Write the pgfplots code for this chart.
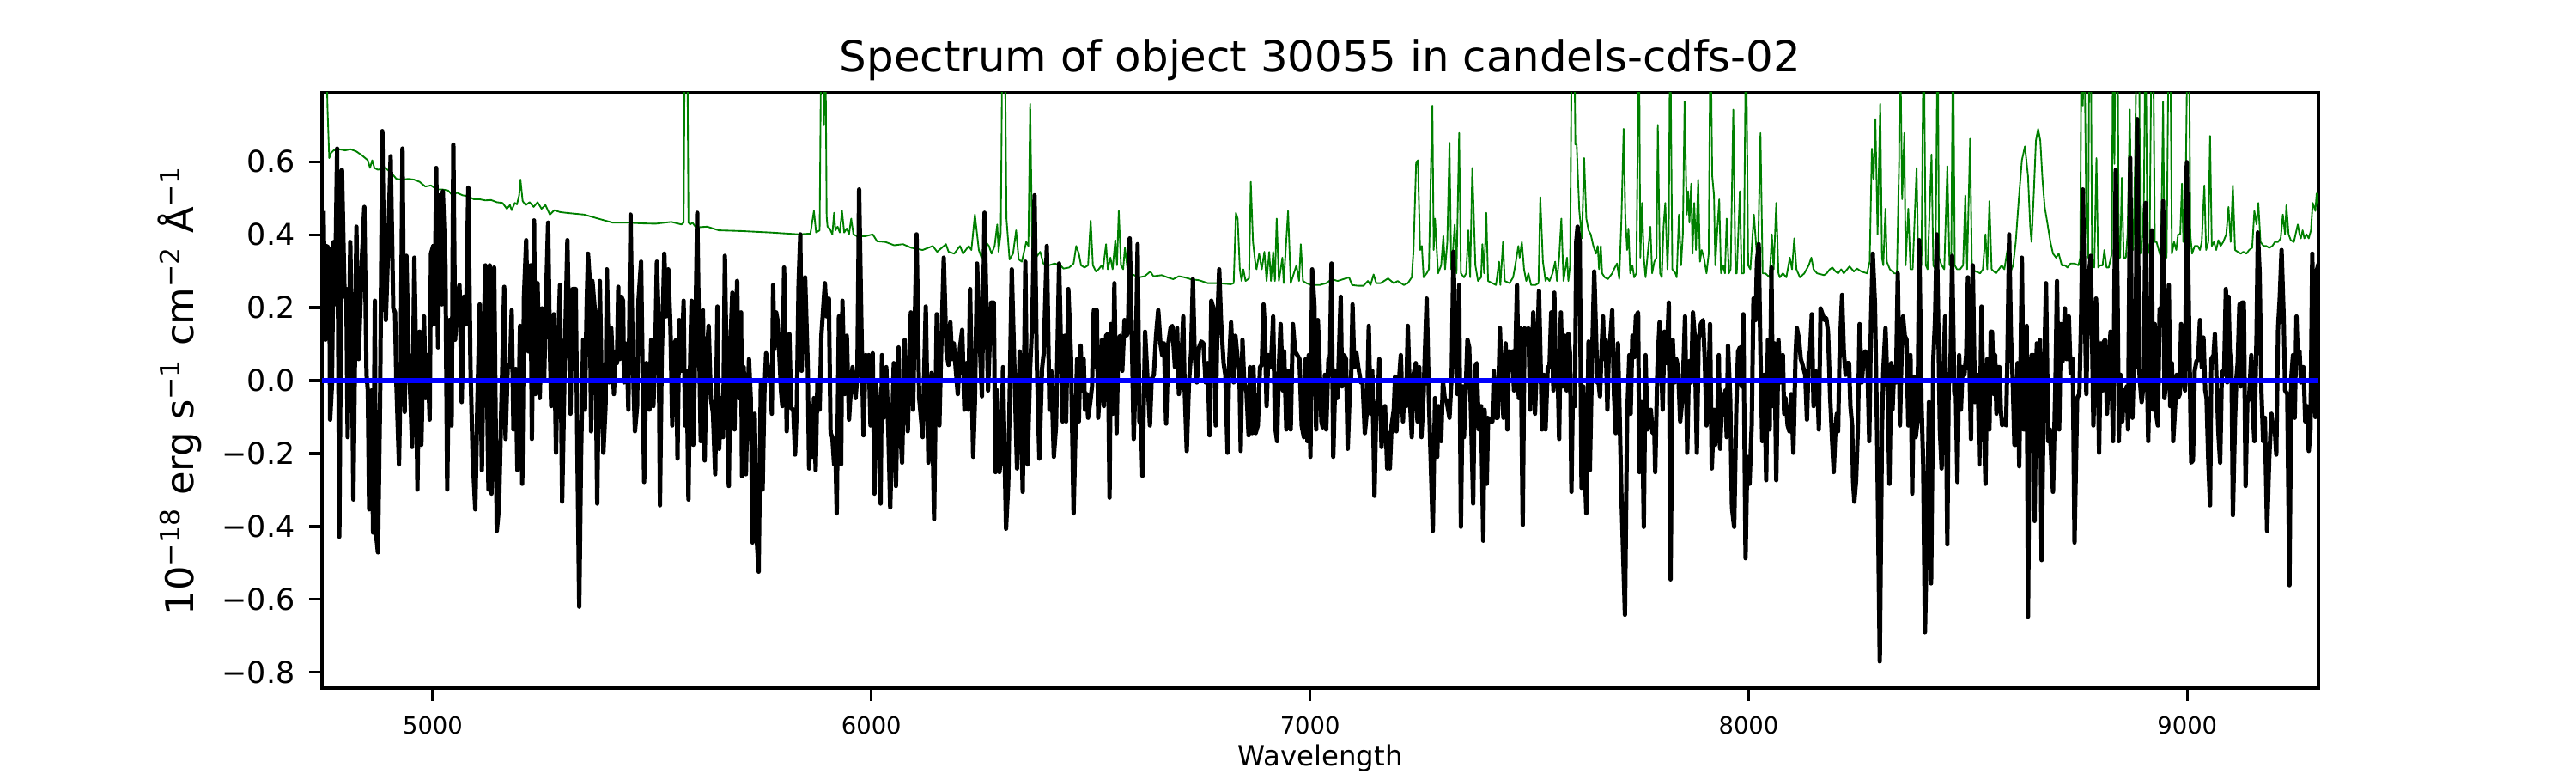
\documentclass[border=0pt]{standalone}
\usepackage{fontspec}
\setmainfont{DejaVu Sans}
\usepackage{pgfplots}
\pgfplotsset{compat=1.18}
\definecolor{mplgreen}{RGB}{0,128,0}
\begin{document}
\begin{tikzpicture}
\useasboundingbox (-1.25in,-0.33in) rectangle (8.75in,2.67in);
\begin{axis}[
  at={(0,0)}, anchor=south west,
  scale only axis, width=7.75in, height=2.31in,
  xmin=4747.5, xmax=9299, ymin=-0.843, ymax=0.789,
  axis line style={line width=0.8pt},
  tick pos=left, tick align=outside,
  major tick length=3.5pt,
  tick style={line width=0.8pt, black},
  xtick={5000,6000,7000,8000,9000},
  xticklabels={5000,6000,7000,8000,9000},
  ytick={-0.8,-0.6,-0.4,-0.2,0,0.2,0.4,0.6},
  yticklabels={−0.8,−0.6,−0.4,−0.2,0.0,0.2,0.4,0.6},
  xticklabel style={font=\fontsize{6.6}{7}\selectfont, inner sep=0pt, anchor=north, yshift=-4.4pt},
  yticklabel style={font=\fontsize{8.4}{9}\selectfont, inner sep=0pt, anchor=east, xshift=-3.9pt},
  minor tick num=0,
]
% sky / noise spectrum
\addplot[mplgreen, line width=0.45pt, line join=round] coordinates {
(4750,1.0)(4756,1.0)(4760,0.75)(4764,0.610)(4768,0.624)(4774,0.631)(4787,0.634)(4800,0.631)(4813,0.634)(4826,0.628)(4839,0.617)(4852,0.604)(4857,0.583)(4862,0.604)(4867,0.583)(4875,0.578)(4891,0.583)(4904,0.572)(4917,0.553)(4931,0.551)(4944,0.553)(4957,0.551)(4970,0.545)(4983,0.532)(4996,0.535)(5009,0.524)(5022,0.524)(5035,0.521)(5045,0.508)(5055,0.515)(5068,0.508)(5081,0.505)(5094,0.497)(5107,0.497)(5120,0.494)(5133,0.495)(5146,0.489)(5159,0.487)(5169,0.471)(5176,0.481)(5180,0.467)(5187,0.487)(5192,0.483)(5197,0.508)(5200,0.551)(5205,0.492)(5212,0.481)(5221,0.489)(5230,0.476)(5239,0.489)(5248,0.471)(5257,0.481)(5267,0.455)(5277,0.467)(5290,0.462)(5303,0.460)(5319,0.458)
(5345,0.455)(5377,0.444)(5410,0.433)(5443,0.433)(5475,0.431)(5508,0.430)(5544,0.435)(5567,0.428)(5572,0.433)(5575,1.0)(5580,1.0)(5583,0.433)(5587,0.428)(5592,0.433)(5600,0.420)(5626,0.422)(5652,0.412)(5704,0.410)(5770,0.406)(5835,0.401)(5861,0.403)(5869,0.465)(5874,0.406)(5882,0.412)(5886,1.0)(5889,1.0)(5892,0.70)(5895,1.0)(5898,0.45)
(5900,0.422)(5905,0.417)(5911,0.401)(5915,0.460)(5918,0.412)(5923,0.422)(5928,0.406)(5933,0.465)(5938,0.406)(5944,0.417)(5949,0.401)(5954,0.444)(5959,0.401)(5967,0.396)(5987,0.396)(6003,0.401)(6013,0.382)(6032,0.380)(6052,0.371)(6072,0.374)(6091,0.364)(6117,0.358)(6140,0.369)(6150,0.353)(6170,0.374)(6176,0.353)(6189,0.348)(6202,0.369)(6209,0.348)(6222,0.369)(6228,0.358)(6236,0.455)(6245,0.358)(6251,0.337)(6261,0.380)(6268,0.369)(6274,0.348)(6281,0.369)(6287,0.428)(6290,0.353)(6295,0.406)(6299,1.0)(6304,1.0)(6308,0.444)(6315,0.332)(6323,0.348)(6330,0.412)(6336,0.332)(6343,0.326)(6353,0.380)(6358,0.369)(6362,0.759)(6367,0.337)(6372,0.332)(6385,0.353)(6392,0.321)(6405,0.316)(6418,0.321)(6431,0.316)(6438,0.307)(6451,0.310)(6461,0.321)
(6467,0.369)(6473,0.348)(6478,0.316)(6486,0.310)(6494,0.316)(6500,0.439)(6505,0.316)(6512,0.299)(6518,0.305)(6525,0.316)(6528,0.305)(6535,0.374)(6539,0.305)(6545,0.337)(6550,0.305)(6556,0.385)(6560,0.316)(6564,0.465)(6569,0.316)(6574,0.305)(6578,0.364)(6584,0.305)(6590,0.294)(6610,0.283)(6623,0.286)(6636,0.299)(6643,0.286)(6662,0.289)(6675,0.283)(6688,0.278)(6701,0.286)(6714,0.283)(6728,0.278)(6747,0.275)(6767,0.267)(6793,0.267)(6819,0.264)(6826,0.267)(6831,0.460)(6835,0.444)(6840,0.305)(6844,0.273)(6848,0.305)(6853,0.273)(6861,0.280)(6865,0.545)(6870,0.380)(6875,0.326)(6878,0.305)(6884,0.348)(6890,0.305)(6896,0.353)(6901,0.273)(6907,0.353)(6911,0.273)(6916,0.353)(6920,0.273)(6924,0.444)(6929,0.273)(6937,0.337)(6940,0.267)(6950,0.465)(6956,0.267)(6969,0.316)(6975,0.273)(6979,0.374)(6984,0.273)(6992,0.267)(7002,0.262)(7022,0.262)
(7037,0.267)(7050,0.278)(7063,0.273)(7076,0.278)(7089,0.283)(7096,0.262)(7109,0.260)(7122,0.260)(7132,0.273)(7138,0.262)(7145,0.291)(7151,0.267)(7161,0.267)(7178,0.280)(7191,0.267)(7200,0.273)(7214,0.262)(7223,0.267)(7232,0.283)(7236,0.358)(7242,0.599)(7246,0.604)(7251,0.358)(7255,0.369)(7259,0.283)(7266,0.294)(7271,0.305)(7276,0.604)(7279,0.754)(7282,0.358)(7285,0.444)(7289,0.358)(7292,0.294)(7299,0.316)(7304,0.396)(7308,0.305)(7313,0.380)(7318,0.652)(7322,0.305)(7326,0.358)(7330,0.428)(7334,0.294)(7340,0.679)(7344,0.294)(7351,0.283)(7356,0.294)(7361,0.412)(7365,0.283)(7370,0.583)(7377,0.316)(7383,0.273)(7390,0.283)(7393,0.374)(7397,0.294)(7402,0.460)(7406,0.273)(7416,0.267)(7424,0.262)(7431,0.326)(7434,0.262)(7440,0.380)(7444,0.273)(7455,0.267)(7463,0.283)(7468,0.316)(7475,0.369)(7478,0.337)(7483,0.380)(7488,0.305)(7493,0.273)(7498,0.294)(7504,0.262)(7514,0.262)(7521,0.267)(7525,0.503)(7531,0.326)(7537,0.273)(7540,0.283)(7546,0.273)(7553,0.294)(7559,0.326)(7563,0.273)(7568,0.337)(7573,0.444)(7578,0.273)(7586,0.337)(7589,0.273)(7593,0.316)(7597,1.0)(7602,1.0)
(7605,0.647)(7608,0.647)(7610,0.583)(7614,0.465)(7620,0.390)(7625,0.610)(7630,0.444)(7635,0.412)(7640,0.401)(7646,0.369)(7652,0.348)(7656,0.369)(7659,0.305)(7663,0.369)(7666,0.294)(7672,0.283)(7679,0.278)(7689,0.294)(7695,0.310)(7700,0.321)(7705,0.278)(7710,0.444)(7715,0.690)(7719,0.444)(7723,0.358)(7726,0.417)(7730,0.294)(7735,0.316)(7739,0.283)(7744,0.294)(7750,1.0)(7753,0.337)(7757,0.487)(7761,0.337)(7765,0.283)(7770,0.348)(7776,0.422)(7780,0.294)(7785,0.326)(7790,0.337)(7793,0.701)(7798,0.294)(7802,0.283)(7806,0.422)(7810,0.487)(7815,0.305)(7818,0.412)(7821,1.0)(7826,0.305)(7833,0.294)(7836,0.283)(7841,0.455)(7846,0.316)(7850,0.401)(7854,0.765)(7859,0.455)(7862,0.519)(7865,0.433)(7869,0.540)(7872,0.348)(7876,0.487)(7880,0.358)(7885,0.551)(7889,0.326)(7893,0.358)(7898,0.337)(7904,0.294)(7909,0.348)(7913,1.0)(7917,0.561)(7921,0.508)(7924,0.316)(7929,0.422)(7933,0.497)(7937,0.294)(7942,0.316)(7946,0.294)(7950,0.444)(7955,0.294)(7959,0.305)(7965,0.743)(7970,0.294)(7973,0.294)(7980,0.519)(7984,0.294)(7989,0.294)(7994,1.0)(7999,0.316)(8004,0.305)(8012,0.455)(8018,0.358)(8022,0.380)(8027,0.679)(8032,0.294)(8038,0.294)(8048,0.283)(8053,0.401)(8057,0.305)(8063,0.487)(8068,0.294)(8071,0.283)(8078,0.294)(8086,0.283)(8094,0.337)(8099,0.305)(8104,0.390)(8109,0.305)(8117,0.283)(8127,0.294)(8137,0.316)(8143,0.337)(8148,0.305)(8156,0.294)(8172,0.289)
(8178,0.294)(8185,0.305)(8191,0.310)(8198,0.299)(8204,0.294)(8211,0.305)(8217,0.294)(8230,0.313)(8240,0.299)(8247,0.307)(8257,0.299)(8270,0.294)(8276,0.326)(8281,0.636)(8285,0.551)(8289,0.717)(8294,0.401)(8300,0.759)(8304,0.337)(8307,0.316)(8312,0.471)(8315,0.326)(8322,0.305)(8332,0.294)(8338,0.294)(8343,0.594)(8345,1.0)(8350,0.497)(8355,0.679)(8358,0.316)(8364,0.471)(8369,0.305)(8374,0.305)(8383,0.583)(8387,0.316)(8394,0.316)(8399,1.0)(8404,0.316)(8408,0.305)(8417,0.620)(8421,0.316)(8426,0.305)(8431,1.0)(8434,0.337)(8440,0.316)(8446,0.305)(8453,0.588)(8458,0.316)(8462,0.337)(8466,1.0)(8470,0.316)(8475,0.305)(8482,0.305)(8489,0.316)(8494,0.508)(8498,0.305)(8505,0.663)(8509,0.305)(8518,0.299)(8528,0.294)(8534,0.305)(8540,0.401)(8544,0.305)(8549,0.492)(8554,0.305)(8564,0.294)(8577,0.316)(8583,0.305)(8590,0.358)(8596,0.294)(8603,0.316)(8609,0.380)(8616,0.497)(8623,0.604)(8630,0.642)(8637,0.561)(8642,0.422)(8645,0.380)(8650,0.508)(8655,0.658)(8660,0.690)(8665,0.658)(8670,0.551)(8675,0.476)(8681,0.433)(8688,0.380)(8694,0.348)(8701,0.337)(8707,0.348)(8714,0.316)(8721,0.316)(8727,0.310)(8734,0.321)
(8743,0.321)(8752,0.316)(8756,0.337)(8759,1.0)(8762,0.754)(8765,1.0)(8770,0.433)(8774,0.337)(8777,1.0)(8780,1.0)(8783,0.316)(8788,0.310)(8793,0.610)(8797,0.310)(8801,0.316)(8807,0.316)(8811,0.358)(8816,0.310)(8821,0.310)(8828,0.348)(8831,1.0)(8834,0.594)(8837,1.0)(8841,1.0)(8844,0.337)(8847,0.337)(8851,0.556)(8855,0.337)(8860,0.337)(8864,0.401)(8869,0.743)(8873,0.380)(8877,0.358)(8881,0.594)(8885,1.0)(8890,1.0)(8893,0.348)(8896,0.358)(8901,0.487)(8905,1.0)(8909,0.380)(8914,0.348)(8919,1.0)(8922,1.0)(8926,0.380)(8930,0.380)(8935,0.358)(8940,0.337)(8945,0.765)(8948,0.358)(8953,0.337)(8958,1.0)(8961,1.0)(8965,0.348)(8970,0.380)(8975,0.358)(8979,0.401)(8984,0.401)(8988,0.540)(8991,0.380)(8996,0.487)(9001,1.0)(9004,1.0)(9007,0.401)(9011,0.348)(9017,0.369)(9024,0.369)(9029,0.358)(9033,0.380)(9039,0.535)(9043,0.358)(9048,0.380)(9052,0.671)(9056,0.369)(9061,0.380)(9066,0.358)(9071,0.385)(9076,0.369)(9082,0.380)(9089,0.401)(9094,0.476)(9099,0.380)(9104,0.535)(9109,0.358)(9115,0.353)(9122,0.348)(9128,0.353)(9135,0.348)(9141,0.358)(9148,0.364)(9153,0.465)(9158,0.428)(9162,0.487)(9167,0.380)(9174,0.369)(9180,0.369)(9187,0.364)(9194,0.369)(9200,0.380)(9207,0.380)(9213,0.390)(9218,0.455)(9223,0.401)(9226,0.481)(9231,0.401)(9236,0.385)(9243,0.380)(9252,0.428)(9256,0.401)(9259,0.390)(9263,0.412)(9267,0.390)(9272,0.401)(9277,0.390)(9282,0.412)(9286,0.487)(9292,0.465)(9295,0.513)(9299,0.476)
};
% object spectrum
\addplot[black, line width=1.2pt, line join=round] coordinates {
(4751,0.465)(4755,0.112)(4759,0.369)(4764,0.358)(4766,-0.107)(4770,-0.016)(4774,0.380)(4777,0.209)(4782,0.636)(4787,-0.428)(4793,0.578)(4799,0.230)(4803,0.251)(4806,-0.155)(4812,0.380)(4816,0.059)(4819,-0.326)(4826,0.422)(4831,0.059)(4839,0.348)(4844,0.476)(4849,0.016)(4852,-0.027)(4855,-0.353)(4860,-0.027)(4864,-0.417)(4868,0.219)(4870,-0.412)(4875,-0.471)(4880,-0.048)(4885,0.684)(4889,0.305)(4893,0.166)(4897,0.316)(4904,0.615)(4910,0.198)(4914,0.187)(4917,-0.005)(4923,-0.230)(4927,0.037)(4931,0.636)(4936,-0.086)(4940,0.342)(4945,0.059)(4949,-0.048)(4953,-0.182)(4958,0.337)(4962,0.059)(4965,-0.299)(4970,0.134)(4974,-0.176)(4980,0.176)(4984,-0.048)(4988,0.070)(4993,-0.107)(4996,0.348)(5001,0.369)(5004,0.155)(5008,0.583)(5012,0.091)(5016,0.508)(5021,0.209)(5023,0.519)(5029,0.316)(5033,-0.299)(5038,0.166)(5043,-0.123)(5047,0.647)(5051,0.112)(5056,0.230)(5061,0.262)(5066,-0.059)(5071,0.230)(5076,0.155)(5081,0.529)(5086,0.037)(5091,-0.209)(5097,-0.353)(5102,-0.048)(5107,0.209)(5112,-0.246)(5117,0.166)(5120,0.316)(5127,-0.299)(5130,0.316)(5134,-0.310)(5140,0.310)(5146,-0.412)(5151,-0.348)(5156,-0.091)(5163,0.257)(5166,-0.160)(5171,0.043)(5176,0.037)(5180,0.193)(5184,-0.134)(5189,0.032)(5193,-0.246)(5199,0.150)(5204,-0.283)(5208,0.230)(5213,0.385)(5218,0.080)(5223,0.316)(5226,-0.160)(5231,0.439)(5234,-0.037)(5239,0.267)(5244,-0.048)(5249,0.198)(5254,0.005)(5257,0.166)(5263,0.433)(5267,0.091)(5270,-0.070)(5276,0.182)(5281,-0.198)(5285,0.059)(5290,0.262)(5295,-0.332)(5302,0.118)(5307,0.385)(5314,-0.091)(5319,0.251)
(5326,0.251)(5330,-0.219)(5334,-0.620)(5338,-0.219)(5343,0.112)(5347,-0.080)(5351,0.209)(5354,0.348)(5358,0.273)(5361,-0.139)(5364,0.273)(5370,0.187)(5372,-0.005)(5375,-0.337)(5381,0.273)(5385,-0.005)(5389,-0.198)(5394,-0.070)(5397,0.305)(5402,-0.005)(5407,0.144)(5410,0.059)(5413,-0.037)(5417,0.080)(5420,0.048)(5423,0.257)(5426,0.059)(5430,0.230)(5434,0.219)(5436,-0.005)(5439,0.102)(5443,0.070)(5446,-0.080)(5451,0.455)(5456,0.059)(5461,-0.139)(5466,-0.070)(5469,0.219)(5475,0.326)(5479,-0.027)(5482,-0.278)(5487,0.048)(5490,-0.005)(5494,-0.080)(5498,0.112)(5503,-0.070)(5507,0.059)(5511,0.326)(5515,0.166)(5518,-0.342)(5522,0.059)(5528,0.348)(5532,0.176)(5537,0.305)(5542,0.144)(5546,-0.123)(5551,0.102)(5555,0.112)(5558,-0.214)(5562,0.166)(5567,0.027)(5572,0.219)(5575,-0.123)(5579,0.027)(5583,-0.326)(5587,0.059)(5590,0.219)(5594,-0.176)(5598,0.059)(5603,0.460)(5607,0.123)(5611,-0.166)(5616,0.193)(5620,-0.219)(5624,0.059)(5629,0.150)(5634,-0.048)(5639,-0.091)(5644,-0.257)(5649,0.203)(5653,-0.187)(5658,-0.048)(5662,-0.155)(5666,0.342)(5671,-0.048)(5675,-0.289)(5679,0.112)(5683,0.241)(5688,-0.134)(5691,0.144)(5694,0.273)(5698,-0.048)(5703,0.187)(5705,-0.262)(5709,0.037)(5714,-0.257)(5717,-0.080)(5721,0.059)(5725,-0.048)(5729,-0.444)(5734,-0.091)(5738,-0.422)(5743,-0.524)(5748,-0.005)(5752,-0.299)(5756,-0.037)(5760,0.075)(5764,0.037)(5770,-0.005)(5773,-0.091)(5776,0.262)(5779,0.086)(5783,0.187)(5786,0.166)(5789,0.102)(5794,-0.027)(5797,-0.070)(5801,0.310)(5804,0.086)(5807,-0.139)(5810,0.102)(5813,0.128)(5817,-0.075)(5822,-0.080)(5826,-0.203)(5830,-0.070)(5834,0.262)(5838,0.401)(5841,0.027)(5845,0.166)(5849,0.283)(5855,0.037)(5858,-0.241)(5862,-0.070)(5866,-0.209)(5869,-0.048)(5873,-0.246)(5877,-0.005)(5882,-0.080)(5886,0.123)
(5894,0.267)(5898,0.176)(5903,0.225)(5907,-0.144)(5911,-0.155)(5915,-0.230)(5918,-0.187)(5921,-0.364)(5926,0.176)(5931,-0.230)(5934,0.219)(5939,-0.037)(5944,0.123)(5949,-0.107)(5953,-0.027)(5957,0.037)(5964,-0.048)(5968,0.016)(5972,0.524)(5977,0.166)(5982,-0.150)(5987,0.070)(5990,0.016)(5994,0.070)(5998,-0.123)(6003,0.075)(6007,-0.310)(6011,-0.011)(6016,-0.102)(6021,-0.337)(6024,0.070)(6028,-0.102)(6034,0.037)(6039,-0.155)(6043,-0.348)(6051,0.048)(6056,-0.289)(6062,0.091)(6066,-0.134)(6070,-0.225)(6076,0.112)(6083,-0.139)(6090,0.187)(6095,-0.080)(6103,0.401)(6109,-0.048)(6117,-0.155)(6124,0.203)(6130,-0.225)(6137,0.021)(6143,-0.380)(6149,0.182)(6155,-0.123)(6158,0.032)(6165,0.337)(6171,0.080)(6176,0.043)(6180,0.160)(6184,0.059)(6188,0.102)(6192,0.037)(6197,-0.037)(6202,0.091)(6207,0.139)(6212,-0.080)(6217,0.048)(6221,-0.080)(6225,0.251)(6232,-0.209)(6236,-0.059)(6241,0.321)(6247,0.112)(6252,-0.043)(6258,0.460)(6266,-0.027)(6273,0.214)(6279,0.214)(6283,-0.251)(6287,-0.027)(6292,-0.251)(6297,-0.193)(6300,0.037)(6307,-0.406)(6312,-0.283)(6320,0.305)(6326,0.037)(6332,-0.241)(6338,0.080)(6345,-0.305)(6351,0.326)(6356,-0.230)(6362,0.037)(6367,0.166)(6372,0.508)(6377,0.059)(6383,-0.214)(6389,0.032)(6393,0.075)(6400,0.369)(6406,-0.080)(6410,0.027)(6416,-0.209)(6421,-0.123)(6428,0.321)(6436,-0.112)(6441,0.123)(6444,-0.112)(6449,0.251)(6455,0.070)(6461,-0.364)
(6469,0.059)(6473,-0.112)(6477,0.096)(6481,-0.027)(6484,0.059)(6487,-0.080)(6491,-0.037)(6494,-0.102)(6499,-0.059)(6503,-0.016)(6507,0.193)(6511,0.037)(6514,0.193)(6517,-0.102)(6522,-0.005)(6526,0.112)(6530,-0.070)(6535,0.123)(6539,0.128)(6543,-0.321)(6546,0.155)(6550,-0.091)(6554,0.267)(6559,-0.144)(6563,0.112)(6567,0.123)(6572,0.027)(6577,0.166)(6582,0.123)(6585,0.134)(6589,0.390)(6594,0.112)(6598,-0.160)(6602,-0.005)(6607,0.374)(6611,-0.112)(6615,-0.123)(6618,-0.262)(6624,0.134)(6629,0.016)(6635,-0.123)(6639,0.005)(6644,0.016)(6649,0.123)(6654,0.193)(6659,0.102)(6663,0.070)(6667,0.102)(6672,-0.118)(6677,0.102)(6682,0.144)(6686,0.150)(6692,0.037)(6697,0.144)(6701,-0.037)(6707,0.059)(6711,0.176)(6714,-0.016)(6719,-0.193)(6724,-0.005)(6729,0.080)(6733,0.278)(6737,0.070)(6742,-0.005)(6747,0.091)(6752,0.107)(6757,0.102)(6762,-0.005)(6767,0.048)(6771,-0.150)(6775,0.219)(6780,0.198)(6785,-0.123)(6789,0.166)(6793,0.305)(6797,0.166)(6803,0.048)(6807,0.016)(6812,-0.198)(6816,0.059)(6820,0.160)(6826,-0.005)(6830,0.123)(6835,0.059)(6839,0.027)(6842,-0.193)(6846,0.112)(6850,-0.005)(6855,-0.027)(6860,-0.150)(6863,0.037)(6868,-0.144)(6871,0.037)(6876,-0.144)(6881,-0.123)(6886,0.037)(6890,0.043)(6894,0.209)(6897,0.144)(6901,-0.070)(6905,0.070)(6911,0.037)(6916,0.176)(6920,-0.123)(6925,-0.166)(6929,0.037)(6933,0.155)(6938,-0.027)(6941,0.080)(6946,-0.134)(6951,0.027)(6956,-0.134)(6961,0.155)(6966,0.080)(6971,0.070)(6976,0.059)(6981,-0.123)(6986,-0.155)(6990,0.059)(6994,-0.166)(6997,0.070)(7001,-0.209)(7005,0.305)(7010,0.209)(7014,-0.134)(7018,0.166)(7022,0.037)(7026,-0.112)
(7029,-0.128)(7034,0.016)(7037,-0.134)(7042,0.059)(7045,0.016)(7049,0.321)(7053,-0.209)(7058,0.027)(7062,-0.048)(7065,0.037)(7070,0.230)(7073,-0.016)(7078,0.070)(7082,0.059)(7086,-0.187)(7091,-0.016)(7094,0.016)(7097,0.209)(7101,0.037)(7106,0.075)(7110,0.037)(7116,-0.005)(7120,-0.005)(7125,-0.144)(7130,-0.080)(7134,0.150)(7138,-0.091)(7142,0.027)(7147,-0.316)(7151,-0.080)(7155,-0.048)(7158,0.059)(7163,-0.182)(7168,-0.112)(7171,-0.070)(7176,-0.241)(7180,-0.144)(7182,-0.241)(7186,-0.123)(7191,-0.080)(7194,0.011)(7197,-0.139)(7202,-0.016)(7207,0.070)(7212,-0.112)(7215,-0.005)(7219,-0.070)(7223,0.150)(7228,-0.059)(7232,-0.155)(7236,0.016)(7241,0.048)(7245,-0.112)(7249,0.037)(7254,-0.155)(7259,-0.037)(7266,0.225)(7271,-0.048)(7276,-0.251)(7280,-0.412)(7285,-0.048)(7290,-0.209)(7293,-0.070)(7299,-0.166)(7303,0.000)(7307,-0.048)(7312,-0.059)(7318,-0.102)(7323,0.016)(7327,0.353)(7331,0.102)(7336,-0.037)(7340,0.262)(7344,-0.401)(7348,-0.016)(7351,-0.155)(7355,-0.027)(7359,0.112)(7363,0.091)(7367,-0.091)(7372,-0.337)(7376,0.037)(7380,0.048)(7385,-0.134)(7390,-0.070)(7395,-0.439)(7398,-0.080)(7403,-0.283)(7406,-0.102)(7411,-0.112)(7416,-0.112)(7419,0.027)(7424,-0.102)(7428,-0.102)(7433,0.144)(7437,-0.005)(7441,-0.102)(7446,0.102)(7450,-0.134)(7454,0.080)(7459,0.059)(7462,0.080)(7465,-0.027)(7468,0.059)(7472,0.262)(7476,-0.048)(7480,0.144)(7485,-0.396)(7489,0.144)(7493,0.134)(7498,0.144)(7502,-0.080)(7506,0.059)(7509,0.187)(7513,-0.091)(7517,0.037)(7522,0.246)(7526,0.037)(7529,-0.134)(7533,0.016)(7537,-0.134)(7542,0.037)(7546,0.037)(7550,0.187)(7555,-0.027)(7557,0.241)(7560,0.027)(7564,0.059)(7568,-0.160)(7572,0.187)(7576,-0.016)(7581,0.123)(7585,-0.027)(7589,0.128)(7593,0.070)
(7596,-0.305)(7599,-0.048)(7604,-0.070)(7607,0.380)(7610,0.422)(7615,0.380)(7619,-0.294)(7623,-0.016)(7627,-0.262)(7630,-0.364)(7635,0.107)(7638,-0.246)(7643,0.059)(7648,0.299)(7652,0.134)(7655,-0.005)(7658,-0.005)(7661,-0.043)(7665,0.091)(7668,0.176)(7671,0.059)(7674,0.112)(7678,-0.080)(7681,0.070)(7684,0.102)(7689,0.193)(7693,-0.037)(7697,-0.144)(7702,0.102)(7705,-0.048)(7710,-0.316)(7718,-0.642)(7723,-0.102)(7728,0.070)(7731,-0.091)(7735,0.123)(7739,0.064)(7743,0.176)(7748,0.187)(7751,-0.251)(7754,-0.059)(7757,-0.059)(7761,-0.401)(7765,0.070)(7769,-0.134)(7774,-0.112)(7777,-0.080)(7781,-0.144)(7785,-0.134)(7787,-0.251)(7792,0.037)(7797,0.160)(7801,0.037)(7804,-0.080)(7808,0.134)(7813,0.048)(7818,0.214)(7822,-0.545)(7827,0.112)(7831,-0.005)(7835,0.059)(7839,0.037)(7844,-0.112)(7849,-0.048)(7855,0.176)(7860,-0.198)(7864,0.053)(7869,-0.005)(7873,0.187)(7877,0.123)(7882,-0.198)(7886,0.112)(7891,0.155)(7896,0.166)(7900,0.059)(7904,-0.123)(7908,-0.037)(7912,0.155)(7916,-0.241)(7921,-0.080)(7924,-0.176)(7929,-0.080)(7932,0.070)(7935,-0.187)(7940,-0.037)(7944,-0.080)(7947,-0.027)(7950,-0.155)(7953,0.096)(7958,-0.048)(7962,-0.348)(7967,-0.401)(7972,-0.070)(7976,0.080)(7980,0.091)(7984,-0.016)(7988,0.182)(7993,-0.487)(7997,-0.209)(8002,-0.283)(8007,-0.123)(8011,0.225)(8016,0.166)(8019,0.326)(8023,0.374)(8027,0.070)(8031,-0.166)(8033,0.005)(8036,0.016)(8040,-0.273)(8044,0.112)(8048,-0.134)(8052,0.310)(8055,-0.070)(8059,0.102)(8063,-0.273)(8068,0.112)(8072,-0.005)(8078,0.070)(8081,-0.091)(8084,-0.048)(8089,-0.123)(8093,-0.139)(8097,-0.037)(8102,-0.198)(8107,0.070)(8110,0.144)(8115,0.112)(8119,0.059)(8123,0.043)(8129,0.016)(8133,-0.107)(8137,0.070)(8140,0.080)(8144,0.182)(8148,-0.070)(8152,0.027)(8156,0.016)(8160,-0.134)(8164,0.198)
(8173,0.166)(8177,0.171)(8181,0.134)(8186,-0.048)(8190,-0.155)(8194,-0.251)(8198,-0.134)(8201,-0.091)(8204,-0.139)(8207,0.059)(8213,0.235)(8217,0.080)(8221,0.016)(8225,0.048)(8229,0.048)(8232,-0.070)(8236,-0.123)(8238,-0.273)(8241,-0.332)(8245,-0.273)(8249,-0.134)(8253,0.155)(8258,-0.005)(8262,0.059)(8266,0.080)(8271,0.037)(8275,-0.166)(8279,0.166)(8283,0.348)(8288,0.209)(8293,-0.155)(8299,-0.770)(8304,-0.134)(8307,0.027)(8312,0.144)(8317,-0.027)(8321,-0.283)(8325,0.048)(8328,-0.080)(8332,0.037)(8336,-0.005)(8340,0.294)(8345,-0.123)(8348,0.037)(8352,0.176)(8356,0.123)(8360,0.112)(8364,-0.123)(8369,0.070)(8373,-0.310)(8377,0.011)(8381,-0.155)(8385,-0.112)(8389,0.385)(8394,-0.059)(8398,-0.230)(8402,-0.690)(8407,-0.390)(8411,-0.059)(8416,-0.556)(8421,0.059)(8425,0.166)(8429,0.401)(8433,0.102)(8436,-0.134)(8440,-0.241)(8444,0.016)(8448,0.176)(8453,-0.449)(8456,-0.016)(8460,0.027)(8464,0.342)(8469,-0.037)(8472,-0.005)(8476,-0.278)(8480,0.070)(8484,-0.080)(8488,0.037)(8492,0.016)(8496,0.070)(8500,0.283)(8504,0.005)(8507,-0.160)(8511,0.316)(8516,-0.059)(8519,0.016)(8523,-0.027)(8526,-0.230)(8531,0.203)(8536,-0.102)(8540,-0.283)(8544,0.059)(8549,-0.134)(8552,0.134)(8555,0.134)(8559,-0.037)(8562,0.070)(8565,-0.091)(8568,0.037)(8572,0.037)(8575,-0.080)(8578,-0.123)(8581,-0.112)(8587,-0.123)(8590,0.059)(8594,0.401)(8598,0.123)(8602,0.005)(8606,-0.176)(8609,-0.176)(8613,0.048)(8617,-0.235)(8623,0.337)(8627,-0.134)(8630,-0.134)(8634,0.150)(8637,-0.647)(8641,0.005)(8645,0.070)(8649,0.070)(8652,-0.385)(8657,0.102)(8660,-0.005)(8664,0.112)(8668,-0.492)(8673,-0.027)(8678,0.267)(8683,-0.166)(8687,-0.134)(8691,-0.241)(8694,-0.305)(8700,0.027)(8703,0.273)(8708,-0.134)(8712,0.155)(8716,0.053)(8721,0.198)(8725,0.059)(8730,0.176)(8734,0.021)(8739,0.059)(8743,-0.444)
(8749,-0.048)(8754,-0.037)(8758,0.166)(8762,0.524)(8767,0.166)(8770,-0.037)(8773,0.166)(8777,0.305)(8780,0.342)(8783,0.123)(8786,-0.123)(8790,0.059)(8792,0.225)(8795,0.144)(8799,-0.198)(8803,0.102)(8807,-0.027)(8810,0.107)(8813,0.112)(8817,-0.091)(8821,0.016)(8825,0.134)(8828,-0.027)(8831,-0.166)(8834,0.251)(8837,0.578)(8841,0.251)(8844,-0.166)(8848,0.016)(8852,-0.112)(8856,-0.027)(8859,-0.037)(8862,-0.016)(8865,-0.134)(8870,0.610)(8875,-0.102)(8878,0.037)(8882,0.037)(8886,0.717)(8890,0.037)(8893,-0.016)(8896,-0.059)(8901,-0.005)(8905,0.487)(8907,0.112)(8911,-0.166)(8914,0.016)(8919,0.412)(8922,-0.080)(8926,0.155)(8929,-0.091)(8933,-0.123)(8937,0.198)(8941,0.187)(8945,0.492)(8948,-0.048)(8953,0.005)(8958,0.262)(8961,-0.070)(8965,0.048)(8968,-0.166)(8971,-0.102)(8976,0.016)(8979,-0.048)(8983,-0.037)(8986,0.155)(8991,-0.005)(8995,-0.027)(8999,0.599)(9004,0.166)(9009,-0.225)(9013,-0.219)(9017,0.027)(9021,0.053)(9025,0.059)(9029,0.166)(9033,0.037)(9037,0.118)(9041,-0.027)(9044,-0.048)(9048,-0.219)(9052,-0.342)(9055,0.059)(9060,0.070)(9063,0.128)(9067,-0.005)(9071,-0.144)(9075,-0.225)(9079,0.027)(9084,0.016)(9088,0.251)(9091,-0.005)(9094,0.230)(9097,0.080)(9101,0.037)(9104,-0.369)(9109,-0.102)(9112,0.005)(9115,0.048)(9119,0.209)(9122,-0.016)(9125,0.214)(9129,0.214)(9133,-0.289)(9137,-0.059)(9141,-0.048)(9146,0.070)(9149,-0.070)(9153,-0.166)(9158,0.123)(9161,0.406)(9165,0.294)(9169,-0.027)(9173,-0.166)(9177,-0.102)(9182,-0.412)(9187,-0.209)(9192,-0.091)(9195,-0.123)(9199,-0.123)(9203,-0.203)(9207,0.144)(9211,0.230)(9215,0.358)(9220,0.166)(9223,-0.027)(9228,-0.037)(9233,-0.561)(9237,0.005)(9241,0.070)(9245,-0.102)(9249,0.176)(9252,0.059)(9256,0.080)(9259,-0.005)(9262,0.037)(9265,0.037)(9269,-0.112)(9273,-0.070)(9277,-0.193)(9281,-0.134)(9285,0.348)(9288,0.100)(9292,-0.100)(9295,0.300)(9299,0.320)
};
% zero line
\addplot[blue, line width=1.25pt] coordinates {(4747.5,0) (9299,0)};
\end{axis}
\node[anchor=base, font=\fontsize{12}{14}\selectfont] at (3.875in,2.393in) {Spectrum of object 30055 in candels-cdfs-02};
\node[anchor=base, font=\fontsize{7.8}{9}\selectfont] at (3.875in,-0.303in) {Wavelength};
\node[anchor=base, rotate=90, font=\fontsize{10.8}{12}\selectfont] at (-0.497in,1.155in) {10\textsuperscript{−18} erg s\textsuperscript{−1} cm\textsuperscript{−2} Å\textsuperscript{−1}};
\end{tikzpicture}
\end{document}
